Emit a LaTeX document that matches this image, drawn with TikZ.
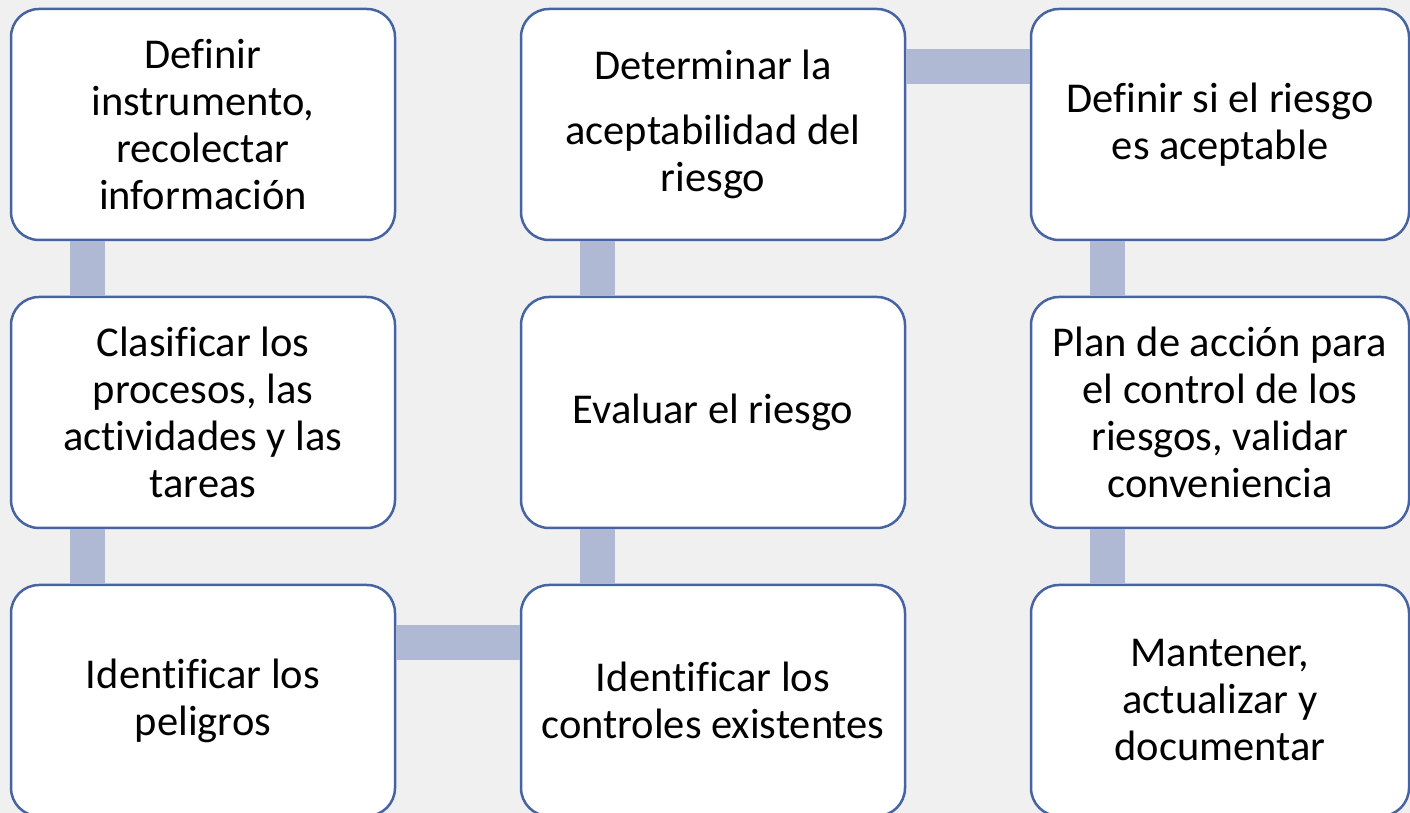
\documentclass[tikz,border=0pt]{standalone}
\usepackage{fontspec}
\setmainfont{Carlito}[Ligatures=NoCommon]
\usetikzlibrary{positioning}

\definecolor{paper}{RGB}{240,240,240}
\definecolor{taskline}{RGB}{70,99,163}
\definecolor{linkfill}{RGB}{176,185,211}

\begin{document}
\begin{tikzpicture}[%
		x=1pt,y=1pt,
		task/.style={draw=taskline,line width=2.5pt,fill=white,rounded corners=28pt,
			minimum width=384pt,minimum height=231pt,align=center,inner sep=0pt,
			font=\fontsize{42.5}{47}\selectfont},
		link/.style={draw=linkfill,line width=35pt},
		node distance=54.5pt and 123.5pt]
		\fill[paper](0,0)rectangle(1410,813);
		\useasboundingbox(0,0)rectangle(1410,813);
		\clip(0,0)rectangle(1410,813);
		\node[task](n11)at(203,688.5){Definir\\instrumento,\\recolectar\\información};
		\node[task,below=of n11](n21){Clasificar los\\procesos, las\\actividades y las\\tareas};
		\node[task,below=of n21](n31){Identificar los\\peligros};
		\node[task,right=of n31](n32){Identificar los\\controles existentes};
		\node[task,above=of n32](n22){Evaluar el riesgo};
		\node[task,above=of n22](n12){Determinar la\\[18pt]aceptabilidad del\\riesgo};
		\node[task,right=of n12,minimum width=378pt](n13){Definir si el riesgo\\es aceptable};
		\node[task,below=of n13,minimum width=378pt](n23){Plan de acción para\\el control de los\\riesgos, validar\\conveniencia};
		\node[task,below=of n23,minimum width=378pt](n33){Mantener,\\actualizar y\\documentar};
		\foreach \a/\b in {n11/n21,n21/n31,n12/n22,n22/n32,n13/n23,n23/n33}
			\draw[link]([xshift=78pt]\a.south west)--([xshift=78pt]\b.north west);
		\draw[link]([yshift=-58.5pt]n31.north east)--([yshift=-58.5pt]n32.north west);
		\draw[link]([yshift=-58.5pt]n12.north east)--([yshift=-58.5pt]n13.north west);
	\end{tikzpicture}
\end{document}
